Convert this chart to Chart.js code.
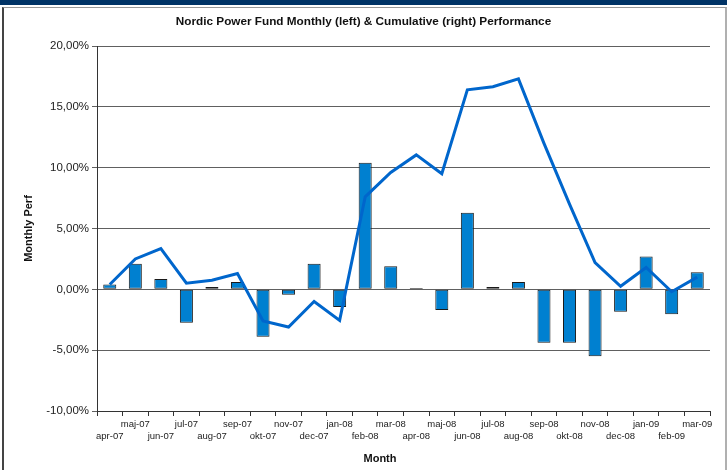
<!DOCTYPE html>
<html>
<head>
<meta charset="utf-8">
<script src="https://cdn.jsdelivr.net/npm/chart.js@4.4.1/dist/chart.umd.min.js"></script>
<style>
  html, body { margin: 0; padding: 0; background: #ffffff; }
  #wrap { position: relative; width: 727px; height: 470px; overflow: hidden; }
  #topbar { position: absolute; left: 0; top: 0; width: 727px; height: 5px; background: #003366; }
  #frame { position: absolute; left: 2px; top: 7px; width: 721px; height: 470px;
           border-left: 2px solid #444; border-top: 1px solid #999; border-right: 2px solid #b0b0b0; }
  #c { position: absolute; left: 0; top: 0; }
</style>
</head>
<body>
<div id="wrap">
  <div id="topbar"></div>
  <div id="frame"></div>
  <canvas id="c" width="727" height="470"></canvas>
</div>
<script>
const titleText = 'Nordic Power Fund Monthly (left) & Cumulative (right) Performance';
const yAxisTitle = 'Monthly Perf';
const xAxisTitle = 'Month';

const months = ['apr-07','maj-07','jun-07','jul-07','aug-07','sep-07','okt-07','nov-07','dec-07','jan-08','feb-08','mar-08',
                'apr-08','maj-08','jun-08','jul-08','aug-08','sep-08','okt-08','nov-08','dec-08','jan-09','feb-09','mar-09'];

const monthlyPerf = [0.4, 2.1, 0.85, -2.75, 0.2, 0.6, -3.9, -0.45, 2.1, -1.45, 10.4, 1.9,
                     0.1, -1.7, 6.3, 0.2, 0.6, -4.4, -4.4, -5.5, -1.85, 2.7, -2.05, 1.4];

const cumulativePerf = [0.4, 2.5, 3.35, 0.5, 0.75, 1.3, -2.6, -3.1, -1.0, -2.55, 7.6, 9.6,
                        11.05, 9.5, 16.4, 16.65, 17.3, 12.0, 7.0, 2.2, 0.25, 1.8, -0.2, 1.0];

const yMin = -10, yMax = 20, yStep = 5;

const FONT = "'Liberation Sans', Arial, sans-serif";

const xTitlePlugin = {
  id: 'xTitle',
  afterDraw(chart) {
    const ctx = chart.ctx;
    ctx.save();
    ctx.font = 'bold 11px ' + FONT;
    ctx.fillStyle = '#111';
    ctx.textAlign = 'center';
    ctx.textBaseline = 'middle';
    ctx.fillText(xAxisTitle, 380, 459);
    ctx.restore();
  }
};

new Chart(document.getElementById('c'), {
  data: {
    labels: months,
    datasets: [
      {
        type: 'line',
        label: 'Cumulative',
        data: cumulativePerf,
        yAxisID: 'y1',
        borderColor: '#0066CC',
        borderWidth: 3,
        pointRadius: 0,
        tension: 0,
        fill: false,
        order: 0
      },
      {
        type: 'bar',
        label: 'Monthly',
        data: monthlyPerf,
        yAxisID: 'y',
        backgroundColor: '#0080D0',
        borderColor: '#1a1a1a',
        borderWidth: 1,
        borderSkipped: false,
        categoryPercentage: 1.0,
        barPercentage: 0.51,
        order: 1
      }
    ]
  },
  options: {
    responsive: false,
    animation: false,
    devicePixelRatio: 1,
    layout: { padding: { left: 0, right: 0, top: 0, bottom: 0 } },
    plugins: {
      legend: { display: false },
      tooltip: { enabled: false },
      title: {
        display: true,
        text: titleText,
        color: '#111',
        font: { family: FONT, size: 11.75, weight: 'bold', lineHeight: '14px' },
        padding: { top: 14.5, bottom: 17.5 }
      }
    },
    scales: {
      x: {
        type: 'category',
        offset: true,
        grid: {
          offset: true,
          drawOnChartArea: false,
          drawTicks: true,
          tickLength: 5,
          color: '#333'
        },
        border: { display: true, color: '#333', width: 1 },
        ticks: {
          autoSkip: false,
          maxRotation: 0,
          minRotation: 0,
          padding: 2,
          color: '#222',
          font: { family: FONT, size: 9.5, lineHeight: '12px' },
          callback: function(value, index) {
            const lab = this.getLabelForValue(value);
            return index % 2 === 0 ? ['', lab] : lab;
          }
        },
        afterFit: (scale) => { scale.height = 59; }
      },
      y: {
        position: 'left',
        min: yMin,
        max: yMax,
        grid: {
          color: '#606060',
          lineWidth: 1,
          drawTicks: true,
          tickLength: 5
        },
        border: { display: true, color: '#333', width: 1 },
        ticks: {
          stepSize: yStep,
          padding: 3,
          color: '#222',
          font: { family: FONT, size: 11.5 },
          callback: (v) => v.toFixed(2).replace('.', ',') + '%'
        },
        title: {
          display: true,
          text: yAxisTitle,
          color: '#111',
          font: { family: FONT, size: 11, weight: 'bold', lineHeight: 1.2 },
          padding: { top: 22.5, bottom: 0 }
        },
        afterFit: (scale) => { scale.width = 97; }
      },
      y1: {
        position: 'right',
        min: yMin,
        max: yMax,
        display: true,
        grid: { display: false, drawTicks: false },
        border: { display: false },
        ticks: { display: false },
        afterFit: (scale) => { scale.width = 17; }
      }
    }
  },
  plugins: [xTitlePlugin]
});
</script>
</body>
</html>
